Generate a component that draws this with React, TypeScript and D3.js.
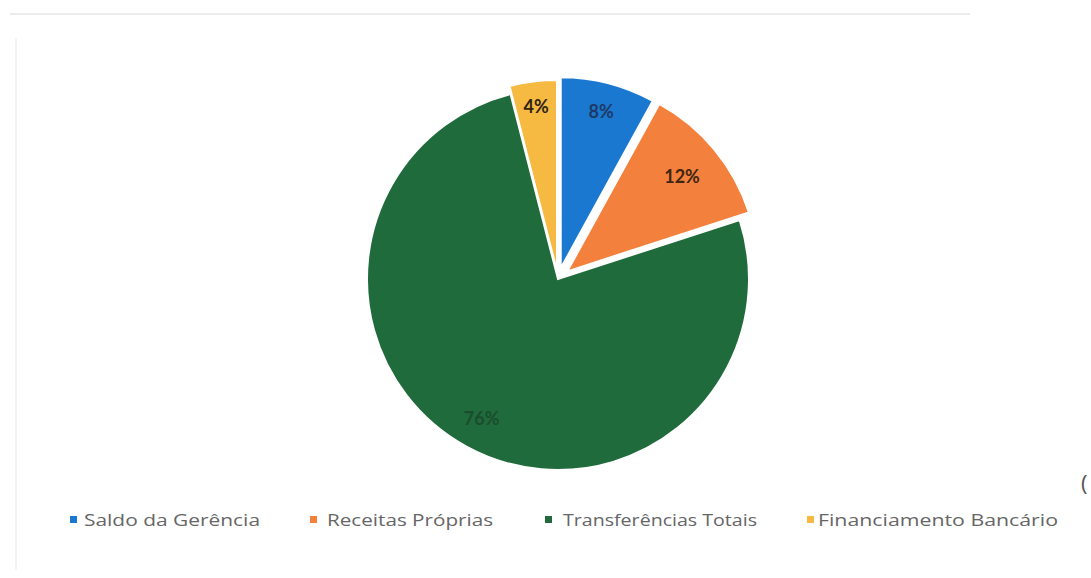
import React from "react";
import * as d3 from "d3";

const categories = ["Saldo da Gerência", "Receitas Próprias", "Transferências Totais", "Financiamento Bancário"];
const values = [8, 12, 76, 4];
const labelTexts = ["8%", "12%", "76%", "4%"];

const colors = ["#1b78d0", "#f4803e", "#206b3c", "#f6b942"];
const labelColors = ["#1d3a66", "#3e2612", "#1a4d2e", "#2e2410"];
const explode = [11, 12, 0, 8];
const labelRadiusFactor = [0.85, 0.78, 0.83, 0.87];

const W = 1091;
const H = 578;
const cx = 558;
const cy = 279;
const R = 191;

const legendMarkX = [70, 310, 545, 807];
const legendTextX = [84, 327, 563, 818];
const legendTextW = [176, 166, 194, 240];

export default function App() {
  const pie = d3.pie<number>().sort(null).value((d) => d).startAngle(0).endAngle(2 * Math.PI);
  const arcs = pie(values);
  const arc = d3.arc<d3.PieArcDatum<number>>().innerRadius(0).outerRadius(R);

  return (
    <svg width={W} height={H} style={{ position: "absolute", left: 0, top: 0, background: "#fff" }}>
      <rect x={0} y={0} width={W} height={H} fill="#ffffff" />
      <line x1={10} y1={14} x2={970} y2={14} stroke="#ececec" strokeWidth={2} />
      <line x1={16} y1={38} x2={16} y2={570} stroke="#f3f3f3" strokeWidth={2} />
      <g transform={`translate(${cx},${cy})`}>
        {arcs.map((a, i) => {
          const mid = (a.startAngle + a.endAngle) / 2;
          const dx = Math.sin(mid) * explode[i];
          const dy = -Math.cos(mid) * explode[i];
          return (
            <g key={i} transform={`translate(${dx},${dy})`}>
              <path d={arc(a) || ""} fill={colors[i]} stroke="#ffffff" strokeWidth={2} />
            </g>
          );
        })}
        {arcs.map((a, i) => {
          const mid = (a.startAngle + a.endAngle) / 2;
          const dx = Math.sin(mid) * explode[i];
          const dy = -Math.cos(mid) * explode[i];
          const lr = R * labelRadiusFactor[i];
          const [lx, ly] = d3.arc<d3.PieArcDatum<number>>().innerRadius(lr).outerRadius(lr).centroid(a);
          return (
            <text
              key={"l" + i}
              x={lx + dx}
              y={ly + dy}
              textAnchor="middle"
              dominantBaseline="central"
              fontFamily="Lato, 'Open Sans', sans-serif"
              fontWeight="bold"
              fontSize={18}
              fill={labelColors[i]}
            >
              {labelTexts[i]}
            </text>
          );
        })}
      </g>
      <g>
        {categories.map((c, i) => (
          <g key={"lg" + i}>
            <rect x={legendMarkX[i]} y={516} width={7} height={7} fill={colors[i]} />
            <text
              x={legendTextX[i]}
              y={526}
              fontFamily="'Open Sans', Lato, sans-serif"
              fontSize={16}
              fill="#666666"
              textLength={legendTextW[i]}
              lengthAdjust="spacingAndGlyphs"
            >
              {c}
            </text>
          </g>
        ))}
      </g>
      <text x={1081} y={491} fontFamily="'Open Sans', sans-serif" fontSize={22} fill="#555">(</text>
    </svg>
  );
}
